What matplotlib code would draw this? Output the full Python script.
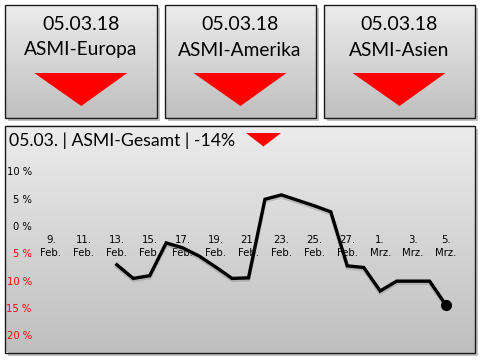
import numpy as np
import pandas as pd
import matplotlib
matplotlib.use("Agg")
import matplotlib.pyplot as plt
from matplotlib.patches import Rectangle, Polygon

W, H = 480, 360

# data
dates = ["2018-02-13", "2018-02-14", "2018-02-15", "2018-02-16", "2018-02-17",
         "2018-02-18", "2018-02-19", "2018-02-20", "2018-02-21", "2018-02-22",
         "2018-02-23", "2018-02-24", "2018-02-25", "2018-02-26", "2018-02-27",
         "2018-02-28", "2018-03-01", "2018-03-02", "2018-03-03", "2018-03-04",
         "2018-03-05"]
values = [-7.1, -9.6, -9.1, -3.1, -4.0, -5.5, -7.5, -9.6, -9.5, 4.9,
          5.7, 4.7, 3.7, 2.6, -7.3, -7.6, -11.9, -10.1, -10.1, -10.1, -14.5]

tick_dates = ["2018-02-09", "2018-02-11", "2018-02-13", "2018-02-15", "2018-02-17",
              "2018-02-19", "2018-02-21", "2018-02-23", "2018-02-25", "2018-02-27",
              "2018-03-01", "2018-03-03", "2018-03-05"]
tick_labels = ["9.\nFeb.", "11.\nFeb.", "13.\nFeb.", "15.\nFeb.", "17.\nFeb.",
               "19.\nFeb.", "21.\nFeb.", "23.\nFeb.", "25.\nFeb.", "27.\nFeb.",
               "1.\nMrz.", "3.\nMrz.", "5.\nMrz."]
y_ticks = [10, 5, 0, -5, -10, -15, -20]
y_labels = ["10 %", "5 %", "0 %", "5 %", "10 %", "15 %", "20 %"]

box_names = ["ASMI-Europa", "ASMI-Amerika", "ASMI-Asien"]
box_date = "05.03.18"
title = "05.03. | ASMI-Gesamt | -14%"

fig = plt.figure(figsize=(W / 100, H / 100), dpi=100)
fig.patch.set_facecolor("white")

# decoration layer in pixel coordinates
bg = fig.add_axes([0, 0, 1, 1])
bg.set_xlim(0, W)
bg.set_ylim(H, 0)
bg.axis("off")

grad = np.linspace(0, 1, 256).reshape(-1, 1)


def panel(x0, y0, x1, y1, top="#ececec", bottom="#bfbfbf"):
    bg.add_patch(Rectangle((x0 + 3, y0 + 3), x1 - x0, y1 - y0,
                           facecolor="#9a9a9a", edgecolor="none", alpha=0.6, zorder=1))
    cm = matplotlib.colors.LinearSegmentedColormap.from_list("g", [top, bottom])
    bg.imshow(grad, extent=(x0, x1, y1, y0), cmap=cm, aspect="auto", zorder=2)
    bg.add_patch(Rectangle((x0, y0), x1 - x0, y1 - y0, facecolor="none",
                           edgecolor="#1a1a1a", lw=1.0, zorder=3))


font = ["Lato", "DejaVu Sans"]
boxes = [(5, 156.5), (164.5, 315.5), (323.5, 474.5)]
for (x0, x1), name in zip(boxes, box_names):
    panel(x0, 5, x1, 118)
    cx = (x0 + x1) / 2
    bg.text(cx, 29.5, box_date, ha="center", va="baseline", fontsize=14,
            family=font, color="black", zorder=4)
    bg.text(cx, 55.5, name, ha="center", va="baseline", fontsize=13.8,
            family=font, color="black", zorder=4)
    bg.add_patch(Polygon([(cx - 46.5, 73), (cx + 46.5, 73), (cx + 0.5, 106)],
                         facecolor="#ff0000", edgecolor="none", zorder=4))

panel(5, 126, 474.5, 352.5)
bg.text(9, 146, title, ha="left", va="baseline", fontsize=12.7,
        family=font, color="black", zorder=4)
bg.add_patch(Polygon([(246, 133), (281, 133), (263.5, 146.5)],
                     facecolor="#ff0000", edgecolor="none", zorder=4))

# chart axes: day -1 at x=34.5, day 25 at x=462.5; y=12 at 160.5, y=-22 at 346.1
left, right = 34.5, 462.5
top_px, bot_px = 160.5, 346.1
ax = fig.add_axes([left / W, 1 - bot_px / H, (right - left) / W, (bot_px - top_px) / H])
ax.patch.set_alpha(0)

x = pd.to_datetime(dates)
ax.plot(x, np.array(values) - 0.35, color="#7f7f7f", lw=2.6, alpha=0.35,
        solid_joinstyle="miter", zorder=2)
ax.plot(x, values, color="black", lw=2.4, solid_joinstyle="miter", zorder=3)
ax.plot(x[-1:], values[-1:], "o", color="black", ms=7, zorder=4)

ax.set_xlim(pd.Timestamp("2018-02-08"), pd.Timestamp("2018-03-06"))
ax.set_ylim(-22, 12)

for s in ax.spines.values():
    s.set_visible(False)
ax.spines["bottom"].set_position(("data", 0))

ax.set_xticks(pd.to_datetime(tick_dates))
ax.set_xticklabels(tick_labels, fontsize=7.3, family="DejaVu Sans",
                   linespacing=1.35)
ax.tick_params(axis="x", length=0, pad=6.5)

ax.set_yticks(y_ticks)
ax.set_yticklabels(y_labels, fontsize=7.2, family="DejaVu Sans")
ax.tick_params(axis="y", length=0, pad=2)
for lab, v in zip(ax.get_yticklabels(), y_ticks):
    lab.set_color("black" if v >= 0 else "#ff0000")

fig.savefig("out.png", dpi=100)
